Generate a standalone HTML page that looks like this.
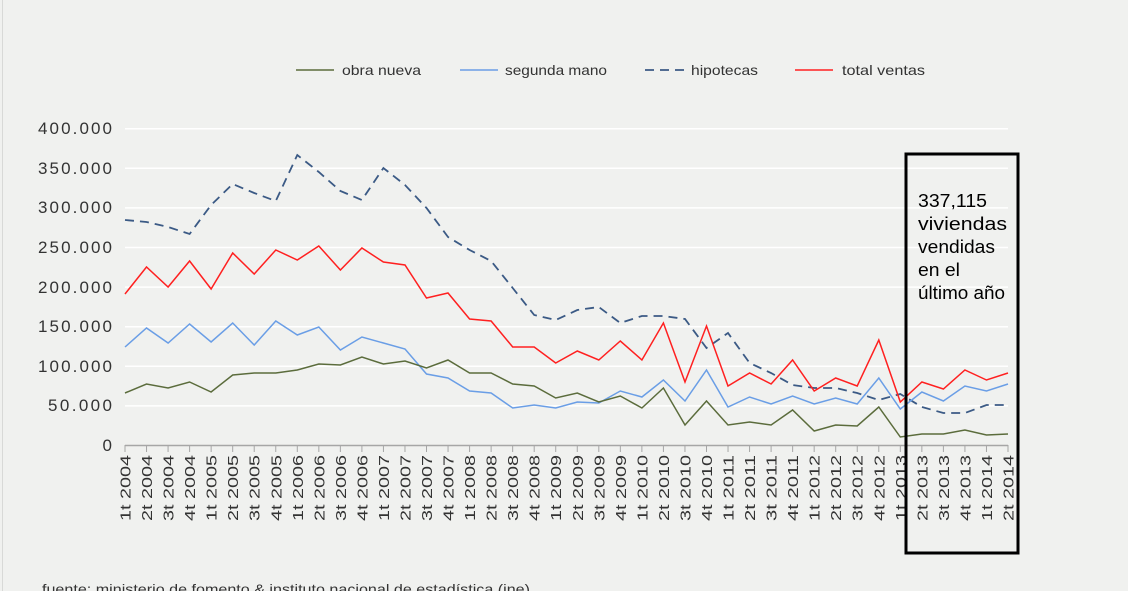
<!DOCTYPE html>
<html><head><meta charset="utf-8"><style>
html,body{margin:0;padding:0;background:#f0f1ef;}
svg{display:block;font-family:"Liberation Sans",sans-serif;}
</style></head><body>
<svg width="1128" height="591" viewBox="0 0 1128 591" xmlns="http://www.w3.org/2000/svg">
<rect width="1128" height="591" fill="#f0f1ef"/>
<line x1="2.5" y1="0" x2="2.5" y2="591" stroke="#d8d9d7"/>
<g stroke="#ffffff" stroke-width="1.5">
<line x1="125" x2="1008" y1="128.7" y2="128.7"/><line x1="125" x2="1008" y1="168.3" y2="168.3"/>
<line x1="125" x2="1008" y1="207.9" y2="207.9"/><line x1="125" x2="1008" y1="247.5" y2="247.5"/>
<line x1="125" x2="1008" y1="287.1" y2="287.1"/><line x1="125" x2="1008" y1="326.7" y2="326.7"/>
<line x1="125" x2="1008" y1="366.3" y2="366.3"/><line x1="125" x2="1008" y1="405.9" y2="405.9"/>
</g>
<g font-size="17" fill="#333" text-anchor="end" lengthAdjust="spacingAndGlyphs">
<text x="112" y="134" textLength="74">400.000</text><text x="112" y="174" textLength="74">350.000</text><text x="112" y="213" textLength="74">300.000</text>
<text x="112" y="253" textLength="74">250.000</text><text x="112" y="293" textLength="74">200.000</text><text x="112" y="332" textLength="74">150.000</text>
<text x="112" y="372" textLength="74">100.000</text><text x="112" y="411" textLength="64">50.000</text><text x="112" y="451">0</text>
</g>
<line x1="125" x2="1008" y1="445.5" y2="445.5" stroke="#a6a6a6" stroke-width="1.5"/>
<g id="ticks" stroke="#a6a6a6"></g>
<g id="xl" font-size="15" fill="#333"></g>
<polyline id="hip" fill="none" stroke="#3b5a85" stroke-width="1.8" stroke-dasharray="9,6"/>
<polyline id="seg" fill="none" stroke="#6a9ee6" stroke-width="1.5"/>
<polyline id="obra" fill="none" stroke="#5b6c3c" stroke-width="1.5"/>
<polyline id="tot" fill="none" stroke="#ff2020" stroke-width="1.5"/>
<g font-size="14" fill="#333">
<line x1="296" x2="334" y1="70" y2="70" stroke="#5b6c3c" stroke-width="1.5"/><text x="342" y="75" textLength="79" lengthAdjust="spacingAndGlyphs">obra nueva</text>
<line x1="460" x2="498" y1="70" y2="70" stroke="#6a9ee6" stroke-width="1.5"/><text x="505" y="75" textLength="102" lengthAdjust="spacingAndGlyphs">segunda mano</text>
<line x1="645" x2="684" y1="70" y2="70" stroke="#3b5a85" stroke-width="1.8" stroke-dasharray="9,6"/><text x="691" y="75" textLength="67" lengthAdjust="spacingAndGlyphs">hipotecas</text>
<line x1="795" x2="833" y1="70" y2="70" stroke="#ff2020" stroke-width="1.5"/><text x="842" y="75" textLength="83" lengthAdjust="spacingAndGlyphs">total ventas</text>
</g>
<rect x="906" y="154" width="112" height="399" fill="none" stroke="#000" stroke-width="3"/>
<g font-size="18" fill="#000">
<text x="918" y="207" textLength="69" lengthAdjust="spacingAndGlyphs">337,115</text>
<text x="918" y="230" textLength="89" lengthAdjust="spacingAndGlyphs">viviendas</text>
<text x="918" y="253" textLength="77" lengthAdjust="spacingAndGlyphs">vendidas</text>
<text x="918" y="276" textLength="42" lengthAdjust="spacingAndGlyphs">en el</text>
<text x="918" y="299" textLength="87" lengthAdjust="spacingAndGlyphs">último año</text>
</g>
<text x="42" y="594" font-size="14" fill="#333" textLength="488" lengthAdjust="spacingAndGlyphs">fuente: ministerio de fomento &amp; instituto nacional de estadística (ine)</text>
<script>
var hip=[220,222,227,234,205,184,193,201,155,172,191,200,168,185,208,237,250,261,288,315,320,310,307,323,316,316,319,348,333,363,373,385,388,388,393,400,394,407,413,413,405,405];
var tot=[294,267,287,261,289,253,274,250,260,246,270,248,262,265,298,293,319,321,347,347,363,351,360,341,360,323,382,326,386,373,384,360,391,378,386,340,402,382,389,370,380,373];
var seg=[347,328,343,324,342,323,345,321,335,327,350,337,343,349,374,378,391,393,408,405,408,402,403,391,397,380,401,370,407,397,404,396,404,398,404,378,409,392,401,386,391,384];
var obra=[393,384,388,382,392,375,373,373,370,364,365,357,364,361,368,360,373,373,384,386,398,393,402,396,408,388,425,401,425,422,425,410,431,425,426,407,437,434,434,430,435,434];
function X(i){return 125+i*883/41;}
function pts(a){return a.map(function(y,i){return X(i).toFixed(1)+","+y;}).join(" ");}
document.getElementById("hip").setAttribute("points",pts(hip));
document.getElementById("tot").setAttribute("points",pts(tot));
document.getElementById("seg").setAttribute("points",pts(seg));
document.getElementById("obra").setAttribute("points",pts(obra));
var ns="http://www.w3.org/2000/svg",tk=document.getElementById("ticks"),xl=document.getElementById("xl");
for(var i=0;i<42;i++){
 var l=document.createElementNS(ns,"line");l.setAttribute("x1",X(i));l.setAttribute("x2",X(i));l.setAttribute("y1",445);l.setAttribute("y2",452);tk.appendChild(l);
 var q=(i%4)+1,yr=2004+Math.floor(i/4);
 var t=document.createElementNS(ns,"text");var x=X(i)+5.5;
 t.setAttribute("transform","translate("+x+",455) rotate(-90)");t.setAttribute("text-anchor","end");
 t.setAttribute("textLength","66");t.setAttribute("lengthAdjust","spacingAndGlyphs");
 t.textContent=q+"t "+yr;xl.appendChild(t);
}
</script>
</svg>
</body></html>
